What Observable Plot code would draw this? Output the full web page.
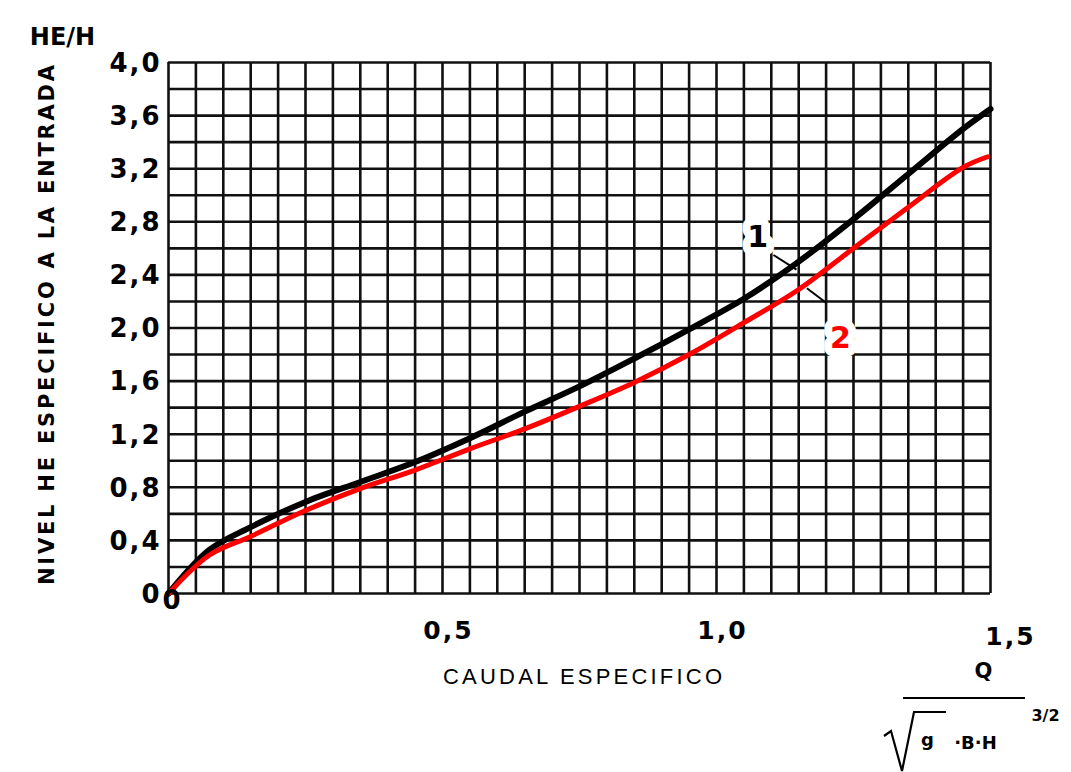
<!DOCTYPE html>
<html><head><meta charset="utf-8">
<script src="https://cdn.jsdelivr.net/npm/d3@7"></script>
<script src="https://cdn.jsdelivr.net/npm/@observablehq/plot@0.6"></script>
<style>
body{margin:0;background:#fff;}
#chart svg{display:block;}
</style>
</head><body><div id="chart"></div>
<script>
// ---- data ----
const q1  = [0, 0.075, 0.15, 0.25, 0.35, 0.45, 0.55, 0.65, 0.75, 0.85, 0.95, 1.05, 1.15, 1.25, 1.35, 1.45, 1.5];
const he1 = [0, 0.33, 0.50, 0.69, 0.84, 0.99, 1.17, 1.37, 1.56, 1.77, 1.99, 2.22, 2.50, 2.82, 3.16, 3.50, 3.65];
const q2  = [0, 0.075, 0.15, 0.25, 0.35, 0.45, 0.55, 0.65, 0.75, 0.85, 0.95, 1.05, 1.15, 1.25, 1.35, 1.45, 1.495];
const he2 = [0, 0.29, 0.43, 0.625, 0.79, 0.93, 1.09, 1.24, 1.41, 1.59, 1.80, 2.04, 2.29, 2.60, 2.91, 3.21, 3.29];

const yTickValues = [0, 0.4, 0.8, 1.2, 1.6, 2.0, 2.4, 2.8, 3.2, 3.6, 4.0];
const yTickLabels = ["0", "0,4", "0,8", "1,2", "1,6", "2,0", "2,4", "2,8", "3,2", "3,6", "4,0"];
const xTickValues = [0, 0.5, 1.0, 1.5];
const xTickLabels = ["0", "0,5", "1,0", "1,5"];

const curveNames = ["1", "2"];
const curveLabelQ = [1.075, 1.226];
const curveLabelHE = [2.68, 1.92];
const leaderQ1 = [1.104, 1.165], leaderHE1 = [2.55, 2.30];
const leaderQ2 = [1.146, 1.200], leaderHE2 = [2.44, 2.19];

const xGrid = d3.range(0, 31).map(i => i * 0.05);
const yGrid = d3.range(0, 21).map(i => i * 0.2);

const yTitle = "NIVEL HE ESPECIFICO A LA ENTRADA";
const xTitle = "CAUDAL ESPECIFICO";
const yUnit = "HE/H";

// ---- tables built from the arrays ----
const curve1 = q1.map((q, i) => ({q, he: he1[i]}));
const curve2 = q2.map((q, i) => ({q, he: he2[i]}));
const labels = curveNames.map((t, i) => ({t, q: curveLabelQ[i], he: curveLabelHE[i]}));
const leaders = curveNames.map((t, i) => ({t, x1: leaderQ1[i], y1: leaderHE1[i], x2: leaderQ2[i], y2: leaderHE2[i]}));
const yTicks = yTickValues.map((v, i) => ({v, t: yTickLabels[i]}));
const xTicks = xTickValues.map((v, i) => ({v, t: xTickLabels[i]}));

const chart = Plot.plot({
  width: 1071,
  height: 772,
  marginLeft: 168,
  marginRight: 81,
  marginTop: 62,
  marginBottom: 179,
  style: {background: "#fff", fontFamily: "DejaVu Sans"},
  x: {domain: [0, 1.5], axis: null},
  y: {domain: [0, 4], axis: null},
  marks: [
    Plot.ruleX(xGrid, {x: d => d, stroke: "#111", strokeWidth: 2.6}),
    Plot.ruleY(yGrid, {y: d => d, stroke: "#111", strokeWidth: 2.6}),
    Plot.line(curve1, {x: "q", y: "he", stroke: "#000", strokeWidth: 6, curve: "catmull-rom"}),
    Plot.line(curve2, {x: "q", y: "he", stroke: "#ff0000", strokeWidth: 5, curve: "catmull-rom"}),
    Plot.link(leaders, {x1: "x1", y1: "y1", x2: "x2", y2: "y2", stroke: "#000", strokeWidth: 2}),
    Plot.text(labels, {x: "q", y: "he", text: "t", fontSize: 30, fontWeight: "bold",
      fill: (d, i) => i === 0 ? "#000" : "#ff0000", stroke: "#fff", strokeWidth: 16, paintOrder: "stroke"}),
    // y tick labels
    Plot.text(yTicks, {y: "v", text: "t", frameAnchor: "left", dx: -7, dy: 1, textAnchor: "end",
      fontSize: 26, fontWeight: "bold"}),
    // x tick labels
    Plot.text(xTicks.slice(0, 1), {x: "v", text: "t", frameAnchor: "bottom", textAnchor: "middle", dx: 4, dy: 15,
      fontSize: 26, fontWeight: "bold"}),
    Plot.text(xTicks.slice(1, 3), {x: "v", text: "t", frameAnchor: "bottom", textAnchor: "middle", dx: 6, dy: 45,
      fontSize: 25, fontWeight: "bold"}),
    Plot.text(xTicks.slice(3), {x: "v", text: "t", frameAnchor: "bottom", textAnchor: "middle", dx: 20, dy: 51,
      fontSize: 25, fontWeight: "bold"}),
    // titles
    Plot.text([yTitle], {frameAnchor: "left", textAnchor: "middle", dx: -121, dy: -3, rotate: -90, fontSize: 21,
      fontWeight: "bold"}),
    Plot.text([yUnit], {frameAnchor: "top-left", textAnchor: "middle", dx: -106, dy: -35, fontSize: 24,
      fontWeight: "bold"}),
    Plot.text([xTitle], {frameAnchor: "bottom", textAnchor: "middle", dx: 3, dy: 90, fontSize: 22,
      fontFamily: "Liberation Sans"}),
    // formula Q / (sqrt(g) · B · H^3/2)
    Plot.text(["Q"], {frameAnchor: "bottom-right", textAnchor: "middle", dx: -7, dy: 84, fontSize: 21, fontWeight: "bold"}),
    Plot.text(["g"], {frameAnchor: "bottom-right", textAnchor: "middle", dx: -63, dy: 152, fontSize: 18, fontWeight: "bold"}),
    Plot.text(["·B·H"], {frameAnchor: "bottom-right", textAnchor: "middle", dx: -15, dy: 155, fontSize: 18, fontWeight: "bold"}),
    Plot.text(["3/2"], {frameAnchor: "bottom-right", textAnchor: "middle", dx: 55, dy: 127, fontSize: 16, fontWeight: "bold"})
  ]
});

const svg = d3.select(chart);
const allText = svg.selectAll("text");
const tickSet = new Set([...yTickLabels, ...xTickLabels]);
allText.filter(function() { return tickSet.has(this.textContent); }).style("letter-spacing", "2px");
allText.filter(function() { return this.textContent === yTitle; }).attr("textLength", 520).attr("lengthAdjust", "spacing");
allText.filter(function() { return this.textContent === xTitle; }).attr("textLength", 279).attr("lengthAdjust", "spacing");
// fraction bar and radical sign (decoration of the axis formula)
svg.append("line").attr("x1", 903).attr("x2", 1025).attr("y1", 698).attr("y2", 698)
  .attr("stroke", "#000").attr("stroke-width", 2);
svg.append("path").attr("d", "M884,736 L891,731 L902,771 L914,712 L946,712")
  .attr("fill", "none").attr("stroke", "#000").attr("stroke-width", 2.2);

document.getElementById("chart").appendChild(chart);
</script>
</body></html>
